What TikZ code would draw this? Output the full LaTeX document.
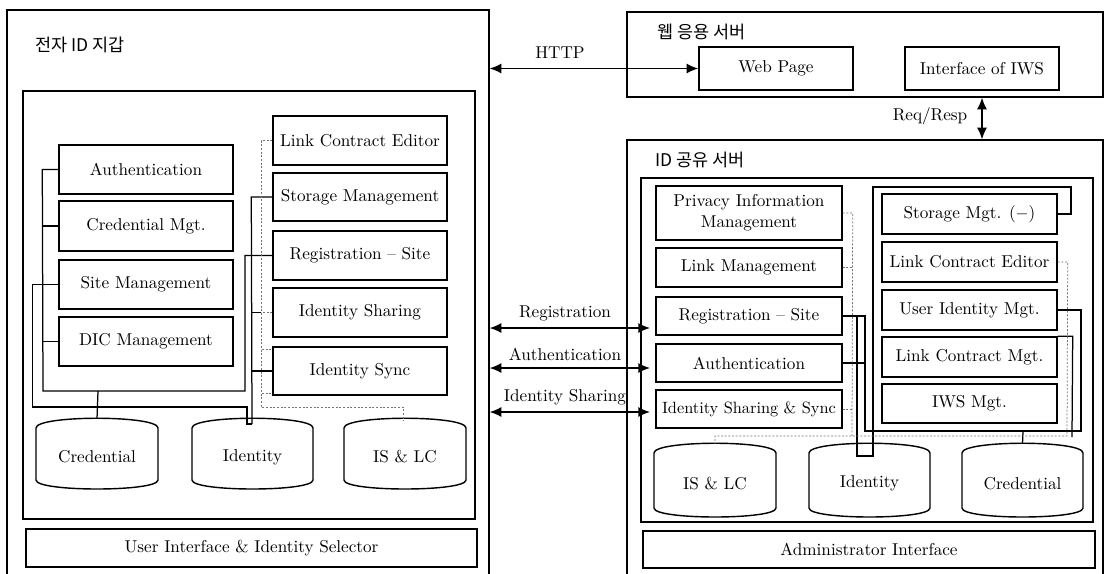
\documentclass[tikz,border=0pt]{standalone}
\usepackage{fontspec}
\newfontfamily\kr{Noto Sans CJK KR}
\usetikzlibrary{arrows.meta,fit}
\newcommand\dbcyl[6]{%
  \draw[cyl] (#2,#4) .. controls (#2,#4-13) and (#3,#4-13) .. (#3,#4) -- (#3,#5)
     .. controls (#3,#5+12) and (#2,#5+12) .. (#2,#5) -- cycle;
  \node[lbl] (#1) at ({(#2+#3)/2},{(#4+#5)/2+3}) {#6};
  \coordinate (#1-top) at ({(#2+#3)/2},{#4-9});
}
\newcommand\bx[7][]{%
  \node[box, #1, minimum width={(#5-#3)*0.6pt}, minimum height={(#6-#4)*0.6pt}]
     (#2) at ({(#3+#5)/2},{(#4+#6)/2}) {#7};
}
\begin{document}
\begin{tikzpicture}[x=0.6pt,y=-0.6pt,
  box/.style={draw, line width=0.85pt, inner sep=0pt, font=\fontsize{10.3}{12.5}\selectfont, align=center},
  frame/.style={draw, line width=0.75pt, inner sep=0pt},
  conn/.style={line width=0.75pt},
  dotc/.style={draw=black!55, line width=0.45pt, dash pattern=on 1.2pt off 1pt},
  arr/.style={line width=0.9pt, {Latex[length=7pt,width=6pt]}-{Latex[length=7pt,width=6pt]}},
  lbl/.style={font=\fontsize{10.3}{12}\selectfont, inner sep=0pt},
  ttl/.style={font=\kr\fontsize{10.5}{12}\selectfont, anchor=west, inner sep=0pt},
  cyl/.style={line width=0.85pt}
]
\useasboundingbox[fill=white] (0,0) rectangle (1110,573);

% ---------------- left: wallet ----------------
\node[frame, fit={(7,10)(489,600)}] (wallet) {};
\node[ttl] (wtitle) at (35,45) {전자 ID 지갑};
\node[frame, fit={(23,91)(475,519)}] (wcore) {};
\bx{ui}{26}{529}{477}{567}{User Interface \& Identity Selector}

\bx{auth1}{59}{145}{233}{194}{Authentication}
\bx{cred1}{59}{201}{233}{251}{Credential Mgt.}
\bx{site1}{59}{260}{233}{309}{Site Management}
\bx{dic1}{59}{317}{233}{366}{DIC Management}

\bx{lce1}{273}{116}{447}{165}{Link Contract Editor}
\bx{stor1}{273}{173}{447}{221}{Storage Management}
\bx{reg1}{273}{231}{447}{280}{Registration -- Site}
\bx{ish1}{273}{288}{447}{337}{Identity Sharing}
\bx{isy1}{273}{347}{447}{395}{Identity Sync}

\dbcyl{credL}{36}{158}{428}{480}{Credential}
\dbcyl{idL}{192}{313}{428}{480}{Identity}
\dbcyl{islcL}{344}{466}{428}{480}{IS \& LC}

% left connectors
\draw[conn] (auth1.west) -- ++(-16,0) coordinate (lb) -- (43,391) -- (245,391) |- (reg1.west);
\draw[conn] (cred1.west) -- ++(-16,0);
\draw[conn] (site1.west) -- ++(-16,0);
\draw[conn] (dic1.west) -- ++(-16,0);
\draw[conn] (98,391) -- (credL-top);
\draw[conn] (site1.west) -- ++(-26,0) |- (247,407) -- (247,424) -- (252,424);
\draw[conn] (stor1.west) -- ++(-21,0) -- (252,424);
\draw[conn] (isy1.west) -- ++(-21,0);
\path (ish1.west) ++(-11,0) coordinate (ishA);
\draw[conn] (ishA) -- ++(-10,0);
\draw[dotc] (ish1.west) -- (ishA);
\draw[dotc] (lce1.west) -- ++(-11,0) |- (403,407) -- (403,421);
\draw[dotc] (262,349) -- (isy1.north west |- 0,349);
\draw[dotc] (262,393) -- (isy1.south west |- 0,393);

% ---------------- web application server ----------------
\node[frame, fit={(627,12)(1103,97)}] (websrv) {};
\node[ttl] (webtitle) at (657,32) {웹 응용 서버};
\bx{webpage}{699}{47}{853}{90}{Web Page}
\bx{iws}{905}{47}{1059}{90}{Interface of IWS}

% ---------------- ID sharing server ----------------
\node[frame, fit={(627,140)(1103,600)}] (idsrv) {};
\node[ttl] (idtitle) at (655,160) {ID 공유 서버};
\node[frame, fit={(641,178)(1093,522)}] (icore) {};
\bx{admin}{643}{531}{1095}{568}{Administrator Interface}

\bx{priv}{656}{186}{842}{240}{Privacy Information\\Management}
\bx{linkm}{656}{248}{842}{287}{Link Management}
\bx{reg2}{656}{297}{842}{335}{Registration -- Site}
\bx{auth2}{656}{344}{842}{382}{Authentication}
\bx[font=\fontsize{9.8}{12}\selectfont]{iss2}{656}{390}{842}{428}{Identity Sharing \& Sync}

\bx{stor2}{882}{194}{1057}{234}{Storage Mgt. ($-$)}
\bx{lce2}{882}{242}{1057}{282}{Link Contract Editor}
\bx{uim}{882}{290}{1057}{330}{User Identity Mgt.}
\bx{lcm}{882}{337}{1057}{377}{Link Contract Mgt.}
\bx{iwsm}{882}{384}{1057}{423}{IWS Mgt.}

\dbcyl{islcR}{654}{776}{453}{508}{IS \& LC}
\dbcyl{idR}{809}{930}{453}{508}{Identity}
\dbcyl{credR}{962}{1083}{453}{508}{Credential}

% right connectors
\draw[conn] (stor2.east) -- (1071,214) -- (1071,187) -- (873,187) -- (873,456) -- (857,456) -- (857,316);
\draw[conn] (reg2.east) -- (865,316) -- (865,431) -- (1081,431) |- (uim.east);
\draw[conn] (auth2.east) -- (865,363);
\draw[conn] (1023,431) -- (credR-top);
\draw[conn] (lcm.north east) -- ++(15,0) -- (1072,437);
\draw[dotc] (lce2.east) -- ++(10,0) -- (1067,436) -- (715,436) -- (islcR-top);
\draw[dotc] (priv.east) -- ++(10,0) coordinate (pb) -- (852,436);
\draw[dotc] (linkm.east) -- ++(10,0);
\draw[dotc] (iss2.east) -- ++(10,0);

% ---------------- protocol arrows ----------------
\coordinate (rgA) at (650,328);
\coordinate (auA) at (650,368);
\coordinate (isA) at (650,412);
\draw[arr] (wallet.east |- webpage.west) -- (webpage.west);
\node[lbl] (http) at (560,53) {HTTP};
\draw[arr] (iws.south |- websrv.south) -- (iws.south |- idsrv.north);
\node[lbl] (rr) at (930,116) {Req/Resp};
\draw[arr] (wallet.east |- rgA) -- (rgA);
\node[lbl] (rgl) at (565,313) {Registration};
\draw[arr] (wallet.east |- auA) -- (auA);
\node[lbl] (aul) at (565,354) {Authentication};
\draw[arr] (wallet.east |- isA) -- (isA);
\node[lbl] (isl) at (565,397) {Identity Sharing};
\end{tikzpicture}
\end{document}
